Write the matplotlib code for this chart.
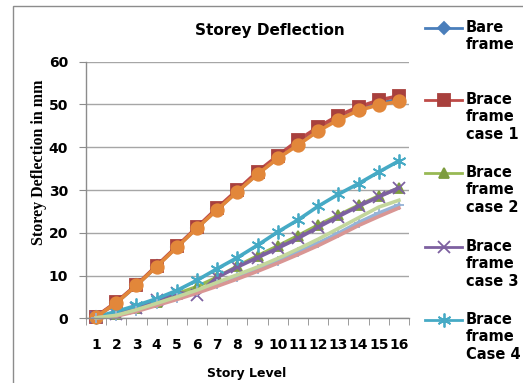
import matplotlib
matplotlib.use('Agg')
from matplotlib import pyplot as plt
from matplotlib.lines import Line2D
from matplotlib.patches import Rectangle
import numpy as np

stories = list(range(1, 17))

bare = [0.3, 3.6, 7.7, 12.2, 16.7, 21.2, 25.5, 29.7, 33.8, 37.5, 40.8, 44.0, 46.7, 48.8, 50.2, 51.2]
case1 = [0.4, 3.8, 7.8, 12.3, 16.8, 21.3, 25.8, 30.0, 34.3, 38.0, 41.6, 44.7, 47.4, 49.4, 51.0, 52.0]
case2 = [0.2, 1.0, 2.3, 3.9, 5.7, 7.4, 9.6, 12.2, 14.6, 16.9, 19.3, 21.8, 24.1, 26.4, 28.6, 30.4]
case3 = [0.2, 1.1, 2.4, 4.3, 6.0, 5.5, 9.6, 12.0, 14.2, 16.4, 18.7, 21.3, 23.8, 26.2, 28.4, 30.5]
case4 = [0.3, 1.6, 3.0, 4.6, 6.5, 8.9, 11.6, 14.2, 17.1, 20.2, 23.0, 26.2, 29.0, 31.5, 34.2, 36.8]
# extra series in the chart that are not in the legend
extra_orange = [0.3, 3.6, 7.7, 12.1, 16.6, 21.1, 25.4, 29.6, 33.7, 37.4, 40.5, 43.8, 46.4, 48.6, 49.9, 50.7]
extra_ltblue = [0.1, 0.6, 1.8, 3.3, 4.8, 6.3, 8.0, 9.7, 11.6, 13.5, 15.5, 17.6, 19.9, 22.4, 24.6, 26.5]
extra_pink = [0.1, 0.5, 1.6, 3.0, 4.4, 5.9, 7.5, 9.2, 11.0, 12.9, 14.9, 17.0, 19.3, 21.7, 23.8, 25.8]
extra_ltgreen = [0.1, 0.7, 2.0, 3.5, 5.0, 6.6, 8.4, 10.2, 12.0, 14.0, 16.2, 18.5, 21.0, 23.5, 26.0, 27.6]

legend_labels = ['Bare\nframe', 'Brace\nframe\ncase 1', 'Brace\nframe\ncase 2',
                 'Brace\nframe\ncase 3', 'Brace\nframe\nCase 4']

fig = plt.figure(figsize=(5.23, 3.83), dpi=100)
W, H = 523, 383
ax = fig.add_axes([86 / W, 1 - 318.3 / H, (409 - 86) / W, (318.3 - 61.7) / H])

# outer chart border
fig.add_artist(Rectangle((13 / W, -0.1), 1.2, (1 - 6 / H) + 0.1, transform=fig.transFigure,
                         fill=False, edgecolor='#8c8c8c', lw=1.0))

lw = 2.6
styles = [
    (bare, '#4A7EBB', 'D', 6, '#4A7EBB'),
    (case1, '#BE4B48', 's', 8, '#A8403D'),
    (case2, '#98B954', '^', 7, '#7D9C3E'),
    (case3, '#7D60A0', 'x', 8, '#7D60A0'),
    (case4, '#46AAC5', (6, 2, 0), 10, '#46AAC5'),
    (extra_orange, '#E2873A', 'o', 9, '#E2873A'),
    (extra_ltblue, '#95B3D7', '+', 7, '#95B3D7'),
    (extra_pink, '#D99694', None, 0, '#D99694'),
    (extra_ltgreen, '#C3D69B', None, 0, '#C3D69B'),
]
for vals, c, m, ms, mc in styles:
    ax.plot(stories, vals, color=c, lw=lw, marker=m, ms=ms, mfc=mc, mec=mc, mew=1.3,
            solid_joinstyle='round', clip_on=False)

ax.set_xlim(0.5, 16.5)
ax.set_ylim(0, 60)
ax.set_yticks(range(0, 61, 10))
ax.set_xticks(stories)
ax.set_xticks(np.arange(0.5, 17, 1), minor=True)
ax.tick_params(axis='x', which='major', length=0, pad=14)
ax.tick_params(axis='x', which='minor', length=5, color='#8c8c8c', direction='out')
ax.tick_params(axis='y', length=5, color='#8c8c8c', pad=8)
for lab in ax.get_xticklabels() + ax.get_yticklabels():
    lab.set_fontweight('bold')
    lab.set_fontsize(10)
ax.grid(axis='y', color='#a6a6a6', lw=1.0)
ax.set_axisbelow(True)
for s in ['top', 'right']:
    ax.spines[s].set_visible(False)
for s in ['left', 'bottom']:
    ax.spines[s].set_color('#8c8c8c')
    ax.spines[s].set_linewidth(1.0)

fig.text(270 / W, 1 - 30 / H, 'Storey Deflection', ha='center', va='center',
         fontsize=11, fontweight='bold')
fig.text(247 / W, 1 - 373 / H, 'Story Level', ha='center', va='center',
         fontsize=9, fontweight='bold')
fig.text(39 / W, 1 - 162 / H, 'Storey Deflection in mm', ha='center', va='center',
         rotation=90, fontsize=11.5, fontweight='bold', family='Liberation Serif')

# legend drawn by hand so the handle sits by the first text line
leg_y = [27.7, 100, 173, 247, 320]
for (vals, c, m, ms, mc), lab, y in zip(styles[:5], legend_labels, leg_y):
    fy = 1 - y / H
    fig.add_artist(Line2D([425 / W, 462 / W], [fy, fy], transform=fig.transFigure,
                          color=c, lw=2.0))
    fig.add_artist(Line2D([443.5 / W], [fy], transform=fig.transFigure, color=c,
                          marker=m, ms=ms, mfc=mc, mec=mc, mew=1.3, lw=0))
    fig.text(466 / W, fy + 8 / H, lab, ha='left', va='top', fontsize=10.5,
             fontweight='bold', linespacing=1.2)

fig.savefig('out.png', dpi=100)
